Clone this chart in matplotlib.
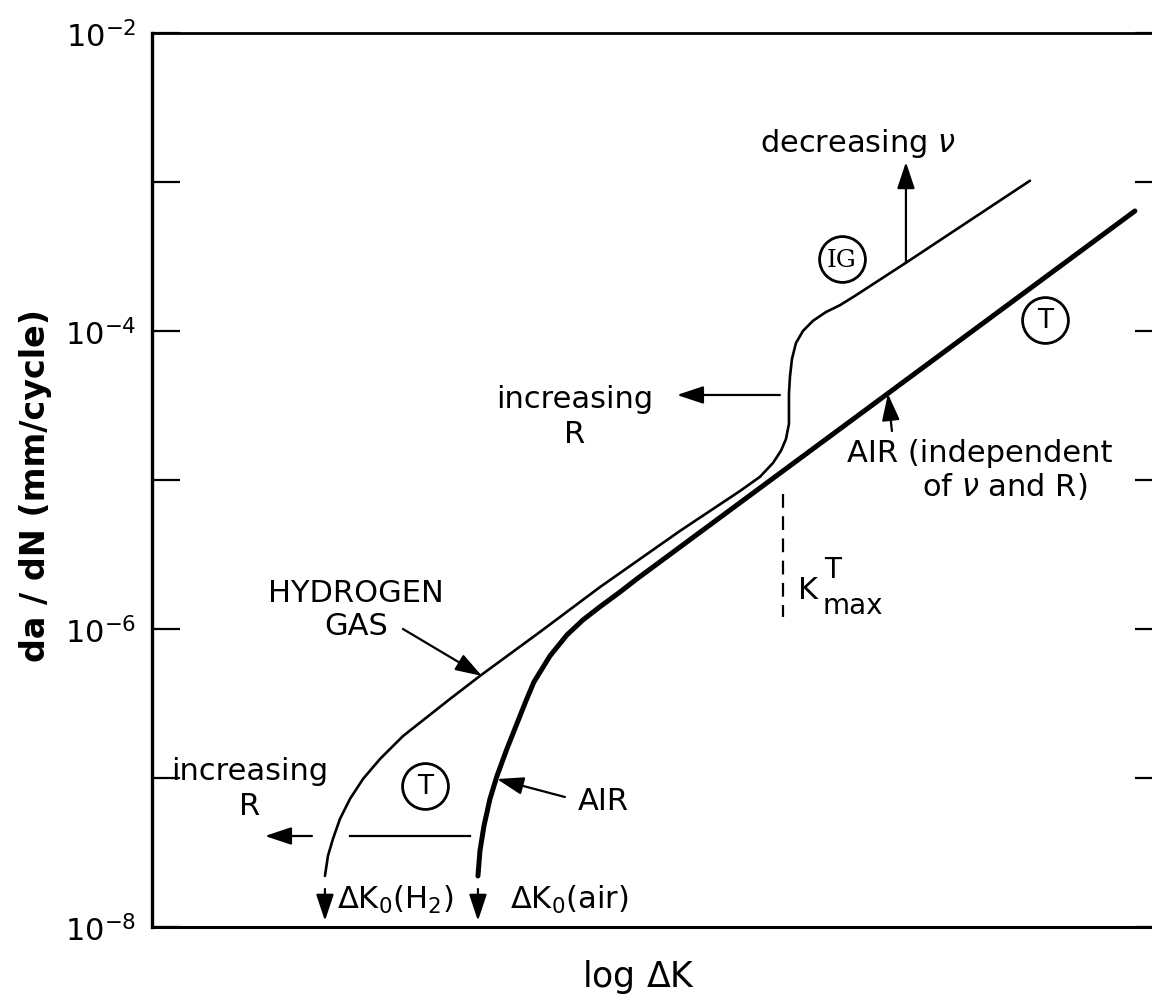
import matplotlib
matplotlib.use("Agg")
import matplotlib.pyplot as plt
from matplotlib.ticker import NullLocator

plt.rcParams["font.family"] = "DejaVu Sans"
plt.rcParams["mathtext.default"] = "regular"

# curves (x = log dK in arbitrary units, y = da/dN in mm/cycle)
LOG_DK_H2 = [1.73, 1.76, 1.81, 1.88, 1.98, 2.11, 2.28, 2.51, 2.75, 2.98, 3.28, 3.88,
             4.48, 5.28, 5.88, 6.08, 6.21, 6.29, 6.34, 6.37, 6.37, 6.37, 6.38, 6.40,
             6.44, 6.51, 6.61, 6.74, 6.88, 7.03, 7.55, 8.78]
DADN_H2 = [2.20e-8, 3.00e-8, 3.90e-8, 5.31e-8, 7.23e-8, 9.84e-8, 1.34e-7, 1.91e-7,
           2.56e-7, 3.39e-7, 4.84e-7, 9.55e-7, 1.91e-6, 4.55e-6, 8.43e-6, 1.05e-5,
           1.30e-5, 1.57e-5, 1.88e-5, 2.38e-5, 3.00e-5, 3.78e-5, 4.91e-5, 6.49e-5,
           8.30e-5, 1.00e-4, 1.17e-4, 1.34e-4, 1.49e-4, 1.72e-4, 2.90e-4, 1.02e-3]

LOG_DK_AIR = [3.26, 3.28, 3.32, 3.38, 3.45, 3.55, 3.66, 3.74, 3.82, 3.98, 4.15, 4.31,
              4.48, 4.68, 4.85, 9.83]
DADN_AIR = [2.20e-8, 3.24e-8, 4.76e-8, 7.23e-8, 1.03e-7, 1.57e-7, 2.41e-7, 3.29e-7,
            4.41e-7, 6.59e-7, 9.12e-7, 1.15e-6, 1.41e-6, 1.77e-6, 2.17e-6, 6.39e-4]

Y_TICKS = [1e-8, 1e-7, 1e-6, 1e-5, 1e-4, 1e-3, 1e-2]
Y_TICK_LABELS = [r"10$^{-8}$", "", r"10$^{-6}$", "", r"10$^{-4}$", "", r"10$^{-2}$"]

TXT = 22
ARROW = dict(arrowstyle="-|>,head_length=0.6,head_width=0.2", mutation_scale=27,
             lw=1.6, color="k", shrinkA=0, shrinkB=0)


def arrow(ax, tail, tip):
    ax.annotate("", xy=tip, xytext=tail, arrowprops=ARROW)


def circled(ax, x, y, label, **kw):
    ax.plot([x], [y], marker="o", markersize=33, markerfacecolor="none",
            markeredgecolor="k", markeredgewidth=2.0)
    ax.text(x, y, label, ha="center", va="center", **kw)


fig = plt.figure(figsize=(11.52, 10.03), dpi=100)
ax = fig.add_axes([0.1319, 0.0748, 0.8776, 0.8913])

ax.plot(LOG_DK_H2, DADN_H2, color="k", lw=1.9, solid_joinstyle="round", solid_capstyle="round")
ax.plot(LOG_DK_AIR, DADN_AIR, color="k", lw=3.6, solid_joinstyle="round", solid_capstyle="round")

ax.set_yscale("log")
ax.set_ylim(1e-8, 1e-2)
ax.set_xlim(0, 10.11)
ax.set_xticks([])
ax.set_yticks(Y_TICKS)
ax.set_yticklabels(Y_TICK_LABELS, fontsize=22)
ax.yaxis.set_minor_locator(NullLocator())
ax.tick_params(axis="y", which="major", left=True, right=True, direction="in",
               length=20, width=1.6, pad=11)
ax.spines["right"].set_visible(False)
ax.spines["left"].set_linewidth(2.4)
ax.spines["top"].set_linewidth(2.0)
ax.spines["bottom"].set_linewidth(2.2)

# axis titles
ax.text(-0.115, 0.4955, "da / dN (mm/cycle)", transform=ax.transAxes, rotation=90,
        ha="center", va="center", fontsize=24, fontweight="bold")
ax.text(0.4817, -0.0548, r"log $\Delta$K", transform=ax.transAxes,
        ha="center", va="center", fontsize=25)

# top right: frequency effect
ax.text(7.06, 1.85e-3, r"decreasing $\mathit{\nu}$", ha="center", va="center", fontsize=TXT)
arrow(ax, (7.54, 2.90e-4), (7.54, 1.36e-3))
circled(ax, 6.90, 3.04e-4, "IG", fontsize=18, family="DejaVu Serif")
circled(ax, 8.93, 1.19e-4, "T", fontsize=19)

# middle: R effect on the S-shaped portion
ax.text(4.23, 2.69e-5, "increasing\nR", ha="center", va="center", fontsize=TXT,
        linespacing=1.25)
arrow(ax, (6.28, 3.72e-5), (5.25, 3.72e-5))

ax.text(6.95, 1.54e-5, "AIR (independent", ha="left", va="center", fontsize=TXT)
ax.text(7.70, 9.12e-6, r"of $\mathit{\nu}$ and R)", ha="left", va="center", fontsize=TXT)
arrow(ax, (7.40, 2.13e-5), (7.36, 3.78e-5))

# K_max^T marker
ax.plot([6.31, 6.31], [8.05e-6, 1.20e-6], color="k", lw=1.6, linestyle=(0, (6.2, 3.8)))
ax.text(6.46, 1.83e-6, "K", ha="left", va="center", fontsize=TXT)
ax.annotate("T", xy=(6.46, 1.83e-6), xytext=(25, 15), textcoords="offset points",
            ha="center", va="center", fontsize=20)
ax.annotate("max", xy=(6.46, 1.83e-6), xytext=(18, -11), textcoords="offset points",
            ha="left", va="center", fontsize=20)

# lower part
ax.text(2.04, 1.36e-6, "HYDROGEN\nGAS", ha="center", va="center", fontsize=TXT,
        linespacing=1.15)
arrow(ax, (2.51, 1.0e-6), (3.30, 4.84e-7))

ax.text(4.51, 7.01e-8, "AIR", ha="center", va="center", fontsize=TXT)
arrow(ax, (4.13, 7.45e-8), (3.45, 9.84e-8))

circled(ax, 2.73, 8.84e-8, "T", fontsize=19)
ax.plot([1.98, 3.18], [4.08e-8, 4.08e-8], color="k", lw=1.6)
ax.text(0.98, 8.57e-8, "increasing\nR", ha="center", va="center", fontsize=TXT,
        linespacing=1.25)
arrow(ax, (1.60, 4.08e-8), (1.13, 4.08e-8))

# threshold arrows
arrow(ax, (1.73, 1.80e-8), (1.73, 1.10e-8))
arrow(ax, (3.26, 1.80e-8), (3.26, 1.10e-8))
ax.text(1.85, 1.54e-8, r"$\Delta$K$_0$(H$_2$)", ha="left", va="center", fontsize=TXT)
ax.text(3.58, 1.54e-8, r"$\Delta$K$_0$(air)", ha="left", va="center", fontsize=TXT)

fig.savefig("out.png", dpi=100)
plt.close(fig)
